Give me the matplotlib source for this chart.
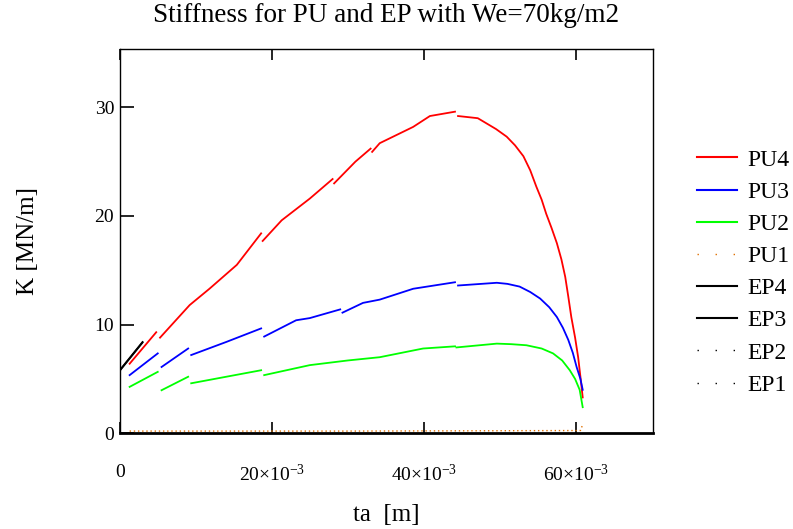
import numpy as np
import matplotlib.pyplot as plt
from matplotlib.lines import Line2D

plt.rcParams['font.family'] = 'Liberation Serif'
plt.rcParams['mathtext.fontset'] = 'custom'
plt.rcParams['mathtext.rm'] = 'Liberation Serif'

nan = np.nan

# PU4 (red) - gaps (nan) where the curve jumps
pu4_x = [0.0013, 0.0048, nan, 0.0053, 0.0092, 0.0118, 0.0154, 0.0186, nan, 0.0188,
         0.0213, 0.0250, 0.0280, nan, 0.0282, 0.0310, 0.0330, nan, 0.0332, 0.0342,
         0.0386, 0.0408, 0.0441, nan, 0.0445, 0.0471, 0.0483, 0.0495, 0.0509, 0.0520,
         0.0531, 0.0540, 0.0548, 0.0555, 0.0561, 0.0568, 0.0575, 0.0581, 0.0586,
         0.0590, 0.0594, 0.0599, 0.0603, 0.0606, 0.0609]
pu4_y = [6.4, 9.3, nan, 8.8, 11.8, 13.3, 15.5, 18.4, nan, 17.7,
         19.6, 21.6, 23.4, nan, 23.0, 25.0, 26.2, nan, 25.9, 26.7,
         28.2, 29.2, 29.6, nan, 29.2, 29.0, 28.5, 28.0, 27.3, 26.5,
         25.5, 24.2, 22.7, 21.5, 20.2, 18.9, 17.5, 16.0, 14.4,
         12.6, 10.7, 8.8, 7.0, 5.2, 3.3]

# PU3 (blue)
pu3_x = [0.0013, 0.0050, nan, 0.0055, 0.0090, nan, 0.0094, 0.0140, 0.0186, nan,
         0.0190, 0.0232, 0.0250, 0.0290, nan, 0.0293, 0.0320, 0.0342, 0.0386,
         0.0441, nan, 0.0445, 0.0496, 0.0510, 0.0526, 0.0540, 0.0553, 0.0565,
         0.0575, 0.0583, 0.0590, 0.0596, 0.0601, 0.0606, 0.0609]
pu3_y = [5.35, 7.35, nan, 6.1, 7.8, nan, 7.2, 8.4, 9.65, nan,
         8.9, 10.4, 10.6, 11.4, nan, 11.1, 12.0, 12.3, 13.3,
         13.9, nan, 13.6, 13.85, 13.75, 13.5, 13.0, 12.4, 11.6,
         10.7, 9.7, 8.6, 7.4, 6.1, 5.0, 4.0]

# PU2 (green)
pu2_x = [0.0013, 0.0050, nan, 0.0055, 0.0090, nan, 0.0094, 0.0140, 0.0186, nan,
         0.0190, 0.0250, 0.0300, 0.0342, 0.0399, 0.0441, nan, 0.0443, 0.0496,
         0.0515, 0.0535, 0.0555, 0.0570, 0.0582, 0.0592, 0.0599, 0.0605, 0.0607, 0.0609]
pu2_y = [4.27, 5.65, nan, 3.96, 5.2, nan, 4.6, 5.2, 5.8, nan,
         5.35, 6.27, 6.7, 7.0, 7.8, 8.0, nan, 7.9, 8.25,
         8.2, 8.1, 7.8, 7.35, 6.7, 5.8, 5.0, 4.0, 3.2, 2.4]

# PU1 (orange dotted) - almost zero
pu1_x = [0.0013, 0.0300, 0.0606, 0.0609]
pu1_y = [0.2, 0.2, 0.25, 0.8]

# EP4 / EP3 (black) - short lines near the origin
ep4_x = [0.0, 0.0015, 0.0030]
ep4_y = [5.8, 7.1, 8.4]
ep3_x = [0.0, 0.0015, 0.0030]
ep3_y = [5.75, 7.05, 8.35]

# EP2 / EP1 (black dotted)
ep2_x = [0.0, 0.0030]
ep2_y = [0.05, 0.05]
ep1_x = [0.0, 0.0030]
ep1_y = [0.03, 0.03]

xticks = [0, 0.02, 0.04, 0.06]
xticklabels = ['0', r'$\mathrm{20{\times}10^{-3}}$', r'$\mathrm{40{\times}10^{-3}}$',
               r'$\mathrm{60{\times}10^{-3}}$']
yticks = [0, 10, 20, 30]

fig = plt.figure(figsize=(7.93, 5.29), dpi=100)
ax = fig.add_axes([0.151, 0.181, 0.672, 0.727])

ax.plot(pu4_x, pu4_y, color='#ff0000', lw=1.3)
ax.plot(pu3_x, pu3_y, color='#0000ff', lw=1.3)
ax.plot(pu2_x, pu2_y, color='#00ff00', lw=1.3)
ax.plot(pu1_x, pu1_y, color='#e07000', lw=1.0, linestyle=(0, (1, 2)))
ax.plot(ep4_x, ep4_y, color='black', lw=1.3)
ax.plot(ep3_x, ep3_y, color='black', lw=1.3)
ax.plot(ep2_x, ep2_y, color='black', lw=1.0, linestyle=(0, (1, 6)))
ax.plot(ep1_x, ep1_y, color='black', lw=1.0, linestyle=(0, (1, 6)))

ax.set_xlim(0, 0.0701)
ax.set_ylim(0, 35.4)
ax.set_xticks(xticks)
ax.set_xticklabels(xticklabels)
ax.set_yticks(yticks)
ax.tick_params(axis='x', direction='in', length=8, width=1.2, top=True, pad=22, labelsize=14)
ax.tick_params(axis='y', direction='in', length=10, width=1.2, pad=4, labelsize=14)
for s in ['top', 'right', 'left']:
    ax.spines[s].set_linewidth(1.0)
ax.spines['bottom'].set_linewidth(2.0)

ax.set_title('Stiffness for PU and EP with We=70kg/m2', fontsize=19.5, pad=19)
ax.set_xlabel('ta  [m]', fontsize=18, labelpad=14)
ax.set_ylabel('K [MN/m]', fontsize=18, labelpad=40)

handles = [
    Line2D([], [], color='#ff0000', lw=1.5),
    Line2D([], [], color='#0000ff', lw=1.5),
    Line2D([], [], color='#00ff00', lw=1.5),
    Line2D([], [], color='#e07000', lw=1.0, linestyle=(0, (1, 12))),
    Line2D([], [], color='black', lw=1.5),
    Line2D([], [], color='black', lw=1.5),
    Line2D([], [], color='black', lw=1.0, linestyle=(0, (1, 12))),
    Line2D([], [], color='black', lw=1.0, linestyle=(0, (1, 12))),
]
labels = ['PU4', 'PU3', 'PU2', 'PU1', 'EP4', 'EP3', 'EP2', 'EP1']
fig.legend(handles, labels, loc='upper left', bbox_to_anchor=(0.879, 0.718),
           frameon=False, fontsize=17, handlelength=1.7, handletextpad=0.42,
           labelspacing=0.45, borderaxespad=0, borderpad=0)

fig.savefig('out.png', dpi=100)
